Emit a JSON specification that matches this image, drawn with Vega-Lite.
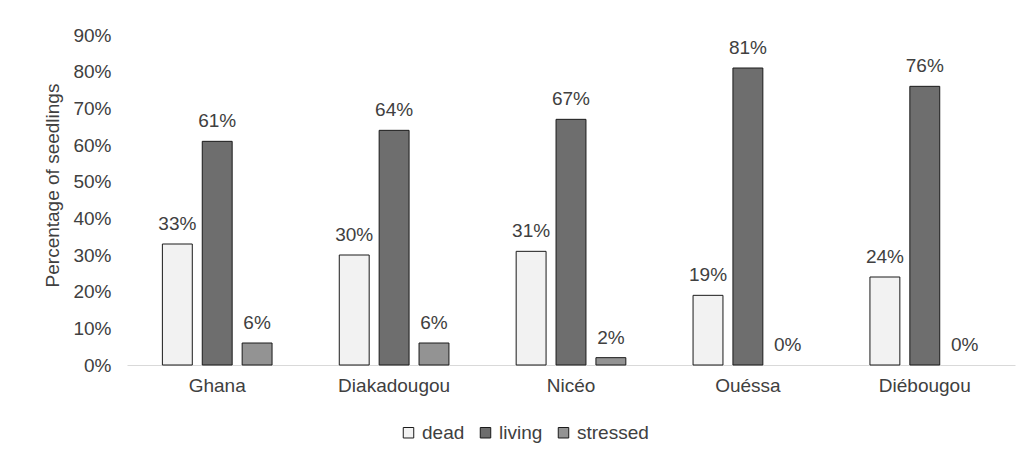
{
  "$schema": "https://vega.github.io/schema/vega-lite/v6.json",
  "width": 888,
  "height": 330,
  "autosize": {"type": "none"},
  "padding": {"left": 127, "top": 35, "right": 11, "bottom": 94},
  "background": "white",
  "config": {
    "view": {"stroke": null},
    "font": "Liberation Sans",
    "text": {"font": "Liberation Sans"}
  },
  "data": {
    "values": [
      {"site": "Ghana", "status": "dead", "value": 0.33},
      {"site": "Ghana", "status": "living", "value": 0.61},
      {"site": "Ghana", "status": "stressed", "value": 0.06},
      {"site": "Diakadougou", "status": "dead", "value": 0.30},
      {"site": "Diakadougou", "status": "living", "value": 0.64},
      {"site": "Diakadougou", "status": "stressed", "value": 0.06},
      {"site": "Nicéo", "status": "dead", "value": 0.31},
      {"site": "Nicéo", "status": "living", "value": 0.67},
      {"site": "Nicéo", "status": "stressed", "value": 0.02},
      {"site": "Ouéssa", "status": "dead", "value": 0.19},
      {"site": "Ouéssa", "status": "living", "value": 0.81},
      {"site": "Ouéssa", "status": "stressed", "value": 0.0},
      {"site": "Diébougou", "status": "dead", "value": 0.24},
      {"site": "Diébougou", "status": "living", "value": 0.76},
      {"site": "Diébougou", "status": "stressed", "value": 0.0}
    ]
  },
  "encoding": {
    "x": {
      "field": "site",
      "type": "nominal",
      "sort": ["Ghana", "Diakadougou", "Nicéo", "Ouéssa", "Diébougou"],
      "scale": {"paddingInner": 0.38, "paddingOuter": 0.2},
      "axis": {
        "title": null,
        "labelAngle": 0,
        "ticks": false,
        "domainColor": "#d9d9d9",
        "domainWidth": 1,
        "labelPadding": 11,
        "labelFontSize": 19,
        "labelColor": "#404040",
        "labelFont": "Liberation Sans"
      }
    },
    "xOffset": {
      "field": "status",
      "type": "nominal",
      "sort": ["dead", "living", "stressed"],
      "scale": {"paddingInner": 0.25}
    },
    "y": {
      "field": "value",
      "type": "quantitative",
      "scale": {"domain": [0, 0.9], "nice": false},
      "axis": {
        "values": [0, 0.1, 0.2, 0.3, 0.4, 0.5, 0.6, 0.7, 0.8, 0.9],
        "format": ".0%",
        "grid": false,
        "ticks": false,
        "domain": false,
        "labelPadding": 16,
        "labelFontSize": 19,
        "labelColor": "#404040",
        "labelFont": "Liberation Sans",
        "title": "Percentage of seedlings",
        "titleFontSize": 19,
        "titleFontWeight": "normal",
        "titleColor": "#404040",
        "titleFont": "Liberation Sans",
        "titleX": -75,
        "titleY": 150,
        "titleBaseline": "middle"
      }
    }
  },
  "layer": [
    {
      "mark": {"type": "bar", "stroke": "#1a1a1a", "strokeWidth": 1},
      "encoding": {
        "fill": {
          "field": "status",
          "type": "nominal",
          "scale": {"domain": ["dead", "living", "stressed"], "range": ["#f2f2f2", "#6e6e6e", "#939393"]},
          "legend": {
            "orient": "none",
            "legendX": 272,
            "legendY": 388,
            "direction": "horizontal",
            "title": null,
            "symbolType": "square",
            "symbolSize": 110,
            "symbolStrokeColor": "#1a1a1a",
            "symbolStrokeWidth": 1,
            "symbolOpacity": 1,
            "labelFontSize": 19,
            "labelColor": "#404040",
            "labelFont": "Liberation Sans",
            "labelOffset": 4,
            "columnPadding": 11
          }
        },
        "strokeOpacity": {
          "condition": {"test": "datum.value > 0", "value": 1},
          "value": 0
        }
      }
    },
    {
      "mark": {"type": "text", "baseline": "alphabetic", "dy": -14, "fontSize": 19, "color": "#404040", "font": "Liberation Sans"},
      "encoding": {
        "text": {"field": "value", "type": "quantitative", "format": ".0%"}
      }
    }
  ]
}
